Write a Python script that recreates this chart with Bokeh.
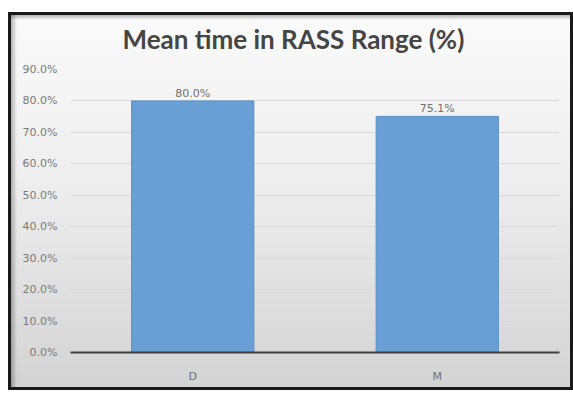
from bokeh.plotting import figure
from bokeh.models import (ColumnDataSource, FactorRange, Range1d, LabelSet,
                          NumeralTickFormatter, FixedTicker, Title)
from bokeh.core.properties import value
from bokeh.embed import file_html
from bokeh.resources import INLINE

# Mean share of time spent within the target RASS range, per group
groups = ["D", "M"]
mean_time = [0.800, 0.751]
value_labels = [f"{v * 100:.1f}%" for v in mean_time]
y_ticks = [0.0, 0.1, 0.2, 0.3, 0.4, 0.5, 0.6, 0.7, 0.8, 0.9]

source = ColumnDataSource(data=dict(group=groups, value=mean_time, label=value_labels))

LABEL_FONT = "DejaVu Sans"

p = figure(
    width=565, height=384,
    x_range=FactorRange(*groups, range_padding=0),
    y_range=Range1d(0, 0.9),
    output_backend="svg", toolbar_location=None,
    min_border_left=62, min_border_right=14,
    min_border_top=63, min_border_bottom=38,
)
p.margin = (6, 0, 0, 8)
p.title = Title(text="Mean time in RASS Range (%)", align="left", offset=52,
                text_font="Lato", text_font_size="26px", text_font_style="bold",
                text_color="#454545", standoff=29)

# Page background: white strip on top, dark frame lines, a faint inner shadow
# and a soft vertical gradient behind the chart
frame_ink = "#1a1a1a"
layers = [
    "linear-gradient(#ffffff,#ffffff) 0 0/100% 6px no-repeat",
    f"linear-gradient({frame_ink},{frame_ink}) 0 6px/100% 3px no-repeat",
    f"linear-gradient({frame_ink},{frame_ink}) 0 6px/3px 100% no-repeat",
    f"linear-gradient({frame_ink},{frame_ink}) 100% 100%/3px 100% no-repeat",
    f"linear-gradient({frame_ink},{frame_ink}) 0 100%/100% 3px no-repeat",
    "linear-gradient(to right, rgba(0,0,0,0.28), rgba(0,0,0,0)) 3px 9px/6px 100% no-repeat",
    "linear-gradient(to bottom, rgba(0,0,0,0.28), rgba(0,0,0,0)) 3px 9px/100% 5px no-repeat",
    "linear-gradient(to bottom, #fbfbfb 0%, #eeeeee 45%, #d3d3d3 100%) 0 0/100% 100% no-repeat",
]
p.border_fill_color = None
p.background_fill_color = None
p.outline_line_color = None
p.styles = {"background": ", ".join(layers)}

p.vbar(x="group", top="value", width=0.5, source=source,
       fill_color="#6a9fd6", line_color="#5a8fc8", line_width=1)

p.add_layout(LabelSet(x="group", y="value", text="label", source=source,
                      y_offset=1, text_align="center", text_baseline="bottom",
                      text_font=value(LABEL_FONT), text_font_size=value("11px"),
                      text_color=value("#707070")))

# y axis: percentage ticks, no line or tick marks
p.yaxis.ticker = FixedTicker(ticks=y_ticks)
p.yaxis.formatter = NumeralTickFormatter(format="0.0%")
p.yaxis.axis_line_color = None
p.yaxis.major_tick_line_color = None
p.yaxis.minor_tick_line_color = None
p.yaxis.major_label_standoff = 7
p.yaxis.major_label_text_font = LABEL_FONT
p.yaxis.major_label_text_font_size = "11px"
p.yaxis.major_label_text_color = "#7a7a7a"

# x axis: dark baseline, category names beneath
p.xaxis.axis_line_color = "#404040"
p.xaxis.axis_line_width = 2
p.xaxis.major_tick_line_color = None
p.xaxis.minor_tick_line_color = None
p.xaxis.major_label_standoff = 11
p.xaxis.major_label_text_font = LABEL_FONT
p.xaxis.major_label_text_font_size = "11px"
p.xaxis.major_label_text_color = "#707070"

p.xgrid.grid_line_color = None
p.ygrid.grid_line_color = "#d9d9d9"
p.ygrid.grid_line_width = 1

open("out.html", "w").write(file_html(p, INLINE))
